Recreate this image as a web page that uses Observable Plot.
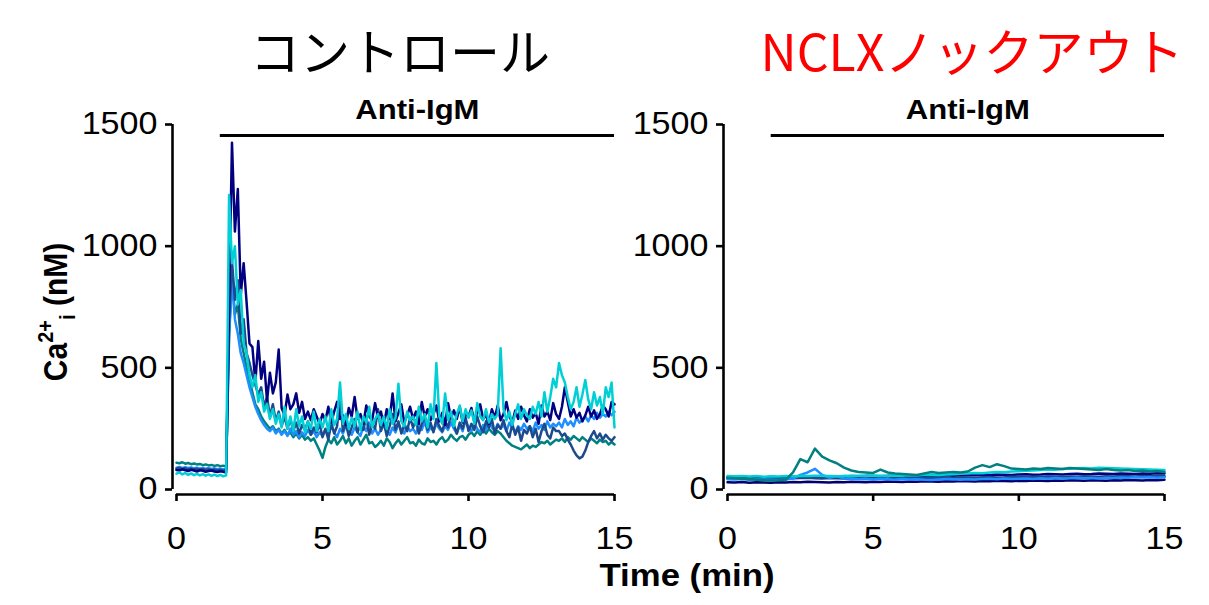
<!DOCTYPE html>
<html><head><meta charset="utf-8">
<script src="https://cdn.jsdelivr.net/npm/d3@7"></script>
<script src="https://cdn.jsdelivr.net/npm/@observablehq/plot@0.6"></script>
<style>
body{margin:0;background:#fff;width:1209px;height:605px;position:relative;overflow:hidden;font-family:"Liberation Sans",Arial,sans-serif;color:#000;}
.abs{position:absolute;white-space:nowrap;}
.title{font-family:"Noto Sans CJK JP";font-size:50px;line-height:1;transform:translateX(-50%);}
.xlab{font-weight:bold;font-size:31px;line-height:1;transform:translateX(-50%) scaleX(1.12);}
</style></head><body>
<div id="left" class="abs" style="left:0;top:0"></div>
<div id="right" class="abs" style="left:551px;top:0"></div>
<div class="abs title" style="left:400px;top:24px;color:#000">コントロール</div>
<div class="abs title" style="left:972px;top:24px;color:#ff0000">NCLXノックアウト</div>
<div class="abs xlab" style="left:687px;top:560px">Time (min)</div>
<script>
// ---- data ----
const xTicks = [0, 5, 10, 15];
const yTicks = [0, 500, 1000, 1500];
const stimulusLabel = "Anti-IgM";
const stimulusStart = 1.5;   // min
const stimulusEnd = 15;      // min
const controlStep = 0.1;     // sampling interval (min)
const koStep = 0.25;         // sampling interval (min)

const controlNames = ["teal", "dodger", "steel", "navy", "turquoise"];
const controlNavy = [80,78,83,79,76,81,78,74,79,77,73,76,78,74,72,75,73,70,
760,1425,1060,1235,800,930,770,600,585,440,610,455,525,365,480,395,440,575,335,305,390,330,350,395,315,360,290,320,285,330,300,270,310,
285,340,275,320,360,290,305,265,335,300,
380,290,310,270,345,300,285,355,295,320,
265,330,290,395,280,315,350,275,305,340,
290,320,270,360,300,330,285,310,345,280,
315,265,355,295,325,290,340,275,310,300,
335,280,320,350,290,305,270,330,295,345,
285,310,360,300,275,325,290,340,305,280,
330,295,315,270,345,300,320,285,355,310,
290,340,420,360,300,330,295,315,280,305,
340,300,325,290,310,345,330,300,360,350];
const controlSteel = [85,88,84,87,83,86,82,85,81,84,80,83,79,82,78,81,77,80,
700,940,780,860,640,700,560,520,470,430,390,420,340,380,300,350,280,320,260,300,250,290,240,275,230,265,245,280,225,255,235,270,215,
250,205,275,230,260,380,240,270,220,255,
290,235,265,245,300,225,270,250,330,240,
275,220,260,310,245,280,230,265,240,295,
255,285,230,270,300,245,275,235,290,260,
240,280,255,310,265,230,275,250,295,240,
270,245,300,260,235,280,255,290,230,265,
250,285,240,215,270,225,255,200,245,230,
260,215,250,195,240,270,225,210,255,240,
240,220,230,205,185,160,140,128,135,160,
195,220,240,210,230,205,225,210,200,215];
const controlTeal = [110,108,112,106,109,104,107,103,105,100,103,99,101,97,100,96,98,95,
620,880,720,760,620,560,500,450,400,350,330,300,280,265,250,260,240,250,230,245,225,235,215,230,210,225,205,215,200,210,185,160,130,
175,205,190,215,185,200,220,190,210,180,
200,215,185,205,225,190,195,175,185,200,
180,210,195,170,190,205,185,200,215,190,
195,180,205,190,185,210,195,200,185,205,
215,195,205,225,210,200,215,220,205,225,
235,220,240,225,245,230,250,235,225,240,
230,215,200,190,180,175,170,165,175,185,
170,180,175,185,195,190,200,185,195,205,
200,210,195,215,205,220,210,200,215,205,
195,210,200,190,205,195,200,185,195,185];
const controlDodger = [90,93,89,92,88,91,87,90,86,89,85,88,84,87,83,86,82,85,
650,860,700,640,560,520,470,420,380,340,310,285,265,250,240,255,230,245,225,240,220,250,225,240,215,235,220,245,225,240,215,235,220,
245,225,260,235,215,250,230,265,240,225,
255,235,220,260,240,275,230,250,225,245,
265,240,225,255,235,270,245,230,260,240,
250,230,265,245,280,235,255,240,270,250,
235,260,245,275,250,230,265,240,285,255,
240,270,250,235,265,245,280,255,240,270,
250,265,240,275,255,235,260,245,270,250,
260,240,275,250,265,245,280,255,270,260,
275,255,290,265,280,260,295,275,285,300,
280,305,290,315,295,310,300,320,305,320];
const controlTurquoise = [65,70,62,68,60,66,59,64,58,63,57,62,56,61,55,60,54,58,
1210,930,1000,760,820,600,560,470,420,470,360,400,320,350,290,330,270,310,255,340,250,300,240,330,260,300,235,280,250,320,240,290,255,
300,240,330,265,290,440,270,310,250,295,
260,320,245,300,275,340,255,290,310,265,
300,250,330,270,295,435,280,260,320,285,
300,265,340,280,310,255,350,290,520,300,
270,395,285,320,260,310,345,280,330,295,
325,270,355,300,285,330,275,310,290,310,
580,330,285,320,265,310,350,290,330,305,
290,340,310,360,300,400,320,380,455,420,
520,470,440,380,330,360,420,340,390,450,
370,330,400,345,380,310,420,380,440,255];

const koNames = ["darknavy", "navy", "steel", "dodger", "turquoise", "teal"];
const koTeal = [48,46,44,42,40,38,37,38,40,
70,125,112,168,135,120,108,90,
78,72,70,68,82,70,66,64,
62,60,66,72,68,70,72,70,
74,90,100,92,104,96,86,84,
82,86,84,88,86,84,88,86,
84,82,80,84,80,78,80,76,
78,74,76,72];
const koTurquoise = [55,54,56,53,55,52,54,53,55,
54,56,55,57,56,55,54,56,
55,57,56,58,57,56,58,57,
59,58,60,61,60,62,63,65,
66,68,67,70,72,71,74,75,
77,78,80,82,81,84,85,87,
88,86,89,88,87,86,85,84,
83,82,81,80];
const koDodger = [42,41,43,40,42,41,40,39,41,
45,60,70,85,60,48,55,45,
44,42,43,41,44,42,40,43,
41,42,40,39,41,43,42,40,
42,41,43,44,42,45,43,44,
45,43,46,44,47,45,46,48,
46,47,45,48,47,49,48,50,
49,50,48,50];
const koNavy = [50,49,51,48,50,49,51,50,52,
51,53,52,54,53,52,54,53,
55,54,56,55,54,56,57,55,
56,58,57,56,58,59,57,58,
60,59,61,60,62,61,60,62,
63,61,62,64,63,62,64,65,
63,64,66,65,64,66,65,64,
66,65,67,66];
const koSteel = [46,47,45,46,44,45,46,44,45,
46,47,48,46,45,47,46,45,
44,46,45,47,46,45,47,46,
48,47,46,48,49,47,48,50,
49,48,50,51,49,50,52,51,
50,52,51,53,52,51,53,52,
54,53,52,54,53,55,54,53,
55,54,56,55];
const koDarkNavy = [30,29,31,28,30,29,28,30,29,
31,30,32,31,30,29,31,30,
32,31,30,32,31,33,32,31,
33,32,34,33,32,34,33,35,
34,33,35,34,36,35,34,36,
35,37,36,35,37,36,38,37,
36,38,37,36,38,37,39,38,
37,39,38,40];

// ---- styles ----
const palette = {
  navy: "#000080", darknavy: "#00006e", steel: "#1c4a8c",
  teal: "#008080", dodger: "#1e8fff", turquoise: "#00d0d6"
};

function tidy(names, arrays, step) {
  const rows = [];
  names.forEach((n, k) => arrays[k].forEach((v, i) => rows.push({s: n, t: +(i * step).toFixed(3), v})));
  return rows;
}
const controlRows = tidy(controlNames, [controlTeal, controlDodger, controlSteel, controlNavy, controlTurquoise], controlStep);
const koRows = tidy(koNames, [koDarkNavy, koNavy, koSteel, koDodger, koTurquoise, koTeal], koStep);

function stretchTexts(svg, sel, k) {
  d3.select(svg).selectAll(sel).each(function() {
    const t = this.getAttribute("transform");
    if (t) this.setAttribute("transform", t + ` scale(${k},1)`);
  });
}

function panel(rows, names, width, marginRight) {
  const svg = Plot.plot({
    width, height: 605,
    marginLeft: 176, marginRight, marginTop: 124, marginBottom: 116,
    x: {domain: [xTicks[0], xTicks[xTicks.length - 1]], axis: null},
    y: {domain: [yTicks[0], yTicks[yTicks.length - 1]], axis: null},
    color: {domain: names, range: names.map(n => palette[n])},
    style: {background: "transparent", fontFamily: "Liberation Sans, Arial, sans-serif", color: "#000", overflow: "visible"},
    marks: [
      Plot.line(rows, {x: "t", y: "v", z: "s", stroke: "s", strokeWidth: 2.5, strokeLinejoin: "round"}),
      Plot.axisY({ticks: yTicks, tickSize: 7, tickPadding: 8, dx: -4, fontSize: 31, strokeWidth: 2.6, label: null, tickFormat: d => String(d), className: "ax"}),
      Plot.axisX({ticks: xTicks, tickSize: 7, tickPadding: 25, dy: 5, fontSize: 31, strokeWidth: 2.6, label: null, tickFormat: d => String(d), className: "ax"}),
      Plot.ruleX([xTicks[0]], {y1: yTicks[0], y2: yTicks[yTicks.length - 1], dx: -4, strokeWidth: 2.6}),
      Plot.ruleY([yTicks[0]], {x1: xTicks[0], x2: xTicks[xTicks.length - 1], dy: 5, strokeWidth: 2.6}),
      Plot.ruleY([yTicks[yTicks.length - 1]], {x1: stimulusStart, x2: stimulusEnd, dy: 11, strokeWidth: 2.8}),
      Plot.text([stimulusLabel], {x: (stimulusStart + stimulusEnd) / 2, y: yTicks[yTicks.length - 1], text: d => d, dy: -14, fontSize: 27, fontWeight: "bold", lineAnchor: "middle", className: "stim"})
    ]
  });
  stretchTexts(svg, "g.ax text", 1.1);
  stretchTexts(svg, "g.stim text", 1.15);
  return svg;
}

const left = panel(controlRows, controlNames, 621, 7);
const right = panel(koRows, koNames, 620, 7);
document.getElementById("left").appendChild(left);
document.getElementById("right").appendChild(right);

// y-axis title with super/subscript
const lab = d3.select(left).append("text")
  .attr("transform", "translate(67,312) rotate(-90) scale(1,1.1)")
  .attr("text-anchor", "middle")
  .attr("font-weight", "bold").attr("font-size", 30).attr("fill", "#000");
lab.append("tspan").text("Ca");
lab.append("tspan").attr("font-size", 20).attr("dy", -13).text("2+");
lab.append("tspan").attr("font-size", 20).attr("dy", 20).text("i");
lab.append("tspan").attr("dy", -7).text(" (nM)");
</script>
</body></html>
